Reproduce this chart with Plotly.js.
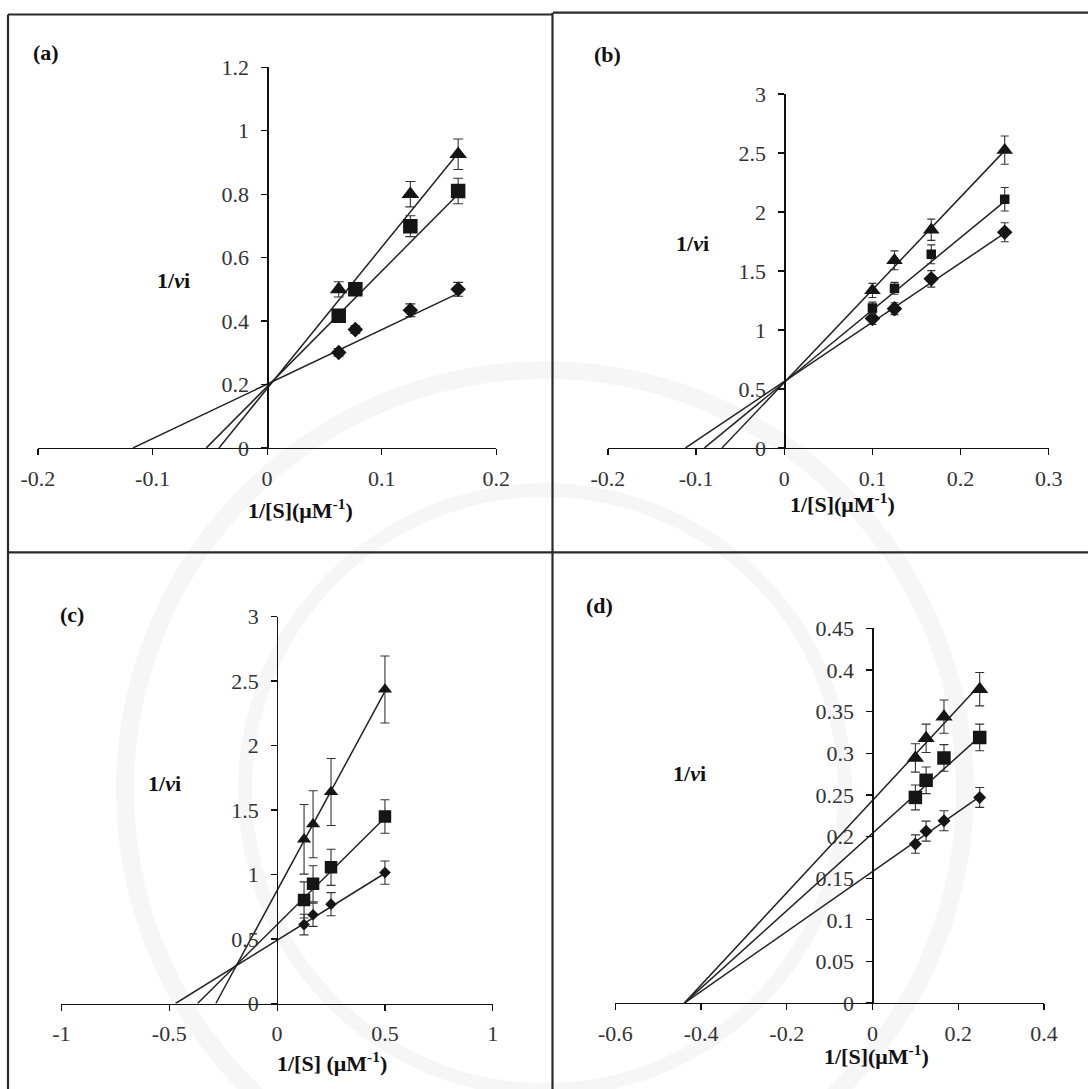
<!DOCTYPE html>
<html><head><meta charset="utf-8">
<script src="https://cdn.plot.ly/plotly-3.0.1.min.js"></script>
<style>html,body{margin:0;padding:0;background:#fff}#chart{width:1088px;height:1089px}</style>
</head><body><div id="chart"></div>
<script>
// ---------- DATA ----------
// Panel (a)
const aX      = [0.0625, 0.077, 0.125, 0.1667];
const aXTri   = [0.0625, 0.125, 0.1667];
const aDia    = [0.301, 0.373, 0.434, 0.500];
const aDiaErr = [0.012, 0.012, 0.020, 0.022];
const aSq     = [0.417, 0.500, 0.699, 0.810];
const aSqErr  = [0.010, 0.010, 0.033, 0.040];
const aTri    = [0.500, 0.800, 0.926];
const aTriErr = [0.024, 0.040, 0.048];
const aLineDiaX = [-0.117, 0.1667], aLineDiaY = [0, 0.487];
const aLineSqX  = [-0.053, 0.1667], aLineSqY  = [0, 0.800];
const aLineTriX = [-0.042, 0.1667], aLineTriY = [0, 0.930];
const aXTicks = [-0.2, -0.1, 0, 0.1, 0.2];
const aXTickText = ['-0.2', '-0.1', '0', '0.1', '0.2'];
const aYTicks = [0, 0.2, 0.4, 0.6, 0.8, 1, 1.2];
const aYTickText = ['0', '0.2', '0.4', '0.6', '0.8', '1', '1.2'];

// Panel (b)
const bX      = [0.1, 0.125, 0.1667, 0.25];
const bDia    = [1.097, 1.180, 1.433, 1.828];
const bDiaErr = [0.05, 0.05, 0.07, 0.08];
const bSq     = [1.186, 1.353, 1.641, 2.108];
const bSqErr  = [0.05, 0.05, 0.08, 0.10];
const bTri    = [1.335, 1.590, 1.849, 2.524];
const bTriErr = [0.06, 0.08, 0.09, 0.12];
const bLineDiaX = [-0.112, 0.25],  bLineDiaY = [0, 1.82];
const bLineSqX  = [-0.0905, 0.25], bLineSqY  = [0, 2.09];
const bLineTriX = [-0.0706, 0.25], bLineTriY = [0, 2.52];
const bXTicks = [-0.2, -0.1, 0, 0.1, 0.2, 0.3];
const bXTickText = ['-0.2', '-0.1', '0', '0.1', '0.2', '0.3'];
const bYTicks = [0, 0.5, 1, 1.5, 2, 2.5, 3];
const bYTickText = ['0', '0.5', '1', '1.5', '2', '2.5', '3'];

// Panel (c)
const cX      = [0.125, 0.1667, 0.25, 0.5];
const cDia    = [0.612, 0.688, 0.770, 1.015];
const cDiaErr = [0.08, 0.09, 0.09, 0.09];
const cSq     = [0.803, 0.928, 1.056, 1.450];
const cSqErr  = [0.14, 0.14, 0.14, 0.13];
const cTri    = [1.273, 1.390, 1.640, 2.435];
const cTriErr = [0.27, 0.26, 0.26, 0.26];
const cLineDiaX = [-0.471, 0.5], cLineDiaY = [0, 1.01];
const cLineSqX  = [-0.369, 0.5], cLineSqY  = [0, 1.44];
const cLineTriX = [-0.284, 0.5], cLineTriY = [0, 2.42];
const cXTicks = [-1, -0.5, 0, 0.5, 1];
const cXTickText = ['-1', '-0.5', '0', '0.5', '1'];
const cYTicks = [0, 0.5, 1, 1.5, 2, 2.5, 3];
const cYTickText = ['0', '0.5', '1', '1.5', '2', '2.5', '3'];

// Panel (d)
const dX      = [0.1, 0.125, 0.1667, 0.25];
const dDia    = [0.191, 0.2065, 0.219, 0.247];
const dDiaErr = [0.011, 0.012, 0.012, 0.012];
const dSq     = [0.247, 0.2676, 0.2944, 0.319];
const dSqErr  = [0.015, 0.016, 0.016, 0.016];
const dTri    = [0.2944, 0.318, 0.344, 0.377];
const dTriErr = [0.017, 0.017, 0.020, 0.020];
const dLineDiaX = [-0.439, 0.25], dLineDiaY = [0, 0.248];
const dLineSqX  = [-0.439, 0.25], dLineSqY  = [0, 0.320];
const dLineTriX = [-0.439, 0.25], dLineTriY = [0, 0.382];
const dXTicks = [-0.6, -0.4, -0.2, 0, 0.2, 0.4];
const dXTickText = ['-0.6', '-0.4', '-0.2', '0', '0.2', '0.4'];
const dYTicks = [0, 0.05, 0.1, 0.15, 0.2, 0.25, 0.3, 0.35, 0.4, 0.45];
const dYTickText = ['0', '0.05', '0.1', '0.15', '0.2', '0.25', '0.3', '0.35', '0.4', '0.45'];

const panelLabels = ['(a)', '(b)', '(c)', '(d)'];
const yTitle = '1/<i>v</i>i';
const xTitles = ['1/[S](μM<sup>-1</sup>)', '1/[S](μM<sup>-1</sup>)', '1/[S] (μM<sup>-1</sup>)', '1/[S](μM<sup>-1</sup>)'];

// ---------- LAYOUT ----------
const W = 1088, H = 1089;
const px = v => v / W, py = v => 1 - v / H;
const FONT = '"Liberation Serif"';
const INK = '#151515';

const traces = [];
const layout = {
  width: W, height: H, margin: {l: 0, r: 0, t: 0, b: 0},
  paper_bgcolor: '#fff', plot_bgcolor: 'rgba(0,0,0,0)',
  showlegend: false, font: {family: FONT, size: 22, color: '#333'},
  annotations: [], shapes: []
};

// faint background watermark rings (decorative, layer below)
const ring = (cx, cy, r, w) => layout.shapes.push({
  type: 'circle', xref: 'paper', yref: 'paper', layer: 'below',
  x0: px(cx - r), x1: px(cx + r), y0: py(cy + r), y1: py(cy - r),
  line: {color: 'rgba(0,0,0,0.035)', width: w}
});
ring(545, 790, 420, 18);
ring(545, 790, 300, 14);

function addPanel(k, g, d) {
  const xa = 'x' + (k === 1 ? '' : k), ya = 'y' + (k === 1 ? '' : k);
  layout['xaxis' + (k === 1 ? '' : k)] = {
    domain: [px(g.x0), px(g.x1)], range: d.xr, anchor: ya,
    showline: true, linecolor: '#111', linewidth: 1.3, mirror: false,
    ticks: 'outside', ticklen: 6, tickwidth: 1.2, tickcolor: '#111',
    tickmode: 'array', tickvals: d.xt, ticktext: d.xtt, ticklabelstandoff: 4,
    showgrid: false, zeroline: false, fixedrange: true,
    tickfont: {family: FONT, size: 22, color: '#333'}
  };
  layout['yaxis' + (k === 1 ? '' : k)] = {
    domain: [py(g.y0), py(g.y1)], range: d.yr, anchor: 'free', position: px(g.ax),
    showline: true, linecolor: '#111', linewidth: 1.3,
    ticks: 'outside', ticklen: 6, tickwidth: 1.2, tickcolor: '#111',
    tickmode: 'array', tickvals: d.yt, ticktext: d.ytt, ticklabelstandoff: 8,
    showgrid: false, zeroline: false, fixedrange: true,
    tickfont: {family: FONT, size: 22, color: '#333'}
  };
  const lines = [[d.ldx, d.ldy], [d.lsx, d.lsy], [d.ltx, d.lty]];
  lines.forEach(l => traces.push({
    type: 'scatter', mode: 'lines', x: l[0], y: l[1], xaxis: xa, yaxis: ya,
    line: {color: '#222', width: 1.5}, hoverinfo: 'skip'
  }));
  const ser = [
    [d.x, d.dia, d.diaE, 'diamond', d.ms[0]],
    [d.x, d.sq, d.sqE, 'square', d.ms[1]],
    [d.xt3 || d.x, d.tri, d.triE, 'triangle-up', d.ms[2]]
  ];
  ser.forEach(s => traces.push({
    type: 'scatter', mode: 'markers', x: s[0], y: s[1], xaxis: xa, yaxis: ya,
    marker: {symbol: s[3], size: s[4], color: INK, line: {width: 0}},
    error_y: {type: 'data', array: s[2], visible: true, color: '#333', thickness: 1.1, width: d.cap}
  }));
  const ann = (x, y, text) => layout.annotations.push({
    xref: 'paper', yref: 'paper', x: px(x), y: py(y), text: '<b>' + text + '</b>',
    showarrow: false, xanchor: 'center', yanchor: 'middle',
    font: {family: FONT, size: 22, color: '#111'}
  });
  ann(g.lab[0], g.lab[1], panelLabels[k - 1]);
  ann(g.yt[0], g.yt[1], yTitle);
  ann(g.xt[0], g.xt[1], xTitles[k - 1]);
}

addPanel(1, {x0: 37.9, x1: 496.3, y0: 447.9, y1: 67.3, ax: 267.3,
             lab: [45.6, 52.6], yt: [173.7, 280.6], xt: [300.6, 508.6]},
  {x: aX, xt3: aXTri, dia: aDia, diaE: aDiaErr, sq: aSq, sqE: aSqErr, tri: aTri, triE: aTriErr,
   ldx: aLineDiaX, ldy: aLineDiaY, lsx: aLineSqX, lsy: aLineSqY, ltx: aLineTriX, lty: aLineTriY,
   xr: [-0.2, 0.2], yr: [0, 1.2], xt: aXTicks, xtt: aXTickText, yt: aYTicks, ytt: aYTickText,
   ms: [12, 14.5, 15.5], cap: 5});
addPanel(2, {x0: 607.9, x1: 1048.8, y0: 447.9, y1: 94.0, ax: 784.3,
             lab: [607.9, 54.4], yt: [692, 243.8], xt: [842.9, 503]},
  {x: bX, dia: bDia, diaE: bDiaErr, sq: bSq, sqE: bSqErr, tri: bTri, triE: bTriErr,
   ldx: bLineDiaX, ldy: bLineDiaY, lsx: bLineSqX, lsy: bLineSqY, ltx: bLineTriX, lty: bLineTriY,
   xr: [-0.2, 0.3], yr: [0, 3], xt: bXTicks, xtt: bXTickText, yt: bYTicks, ytt: bYTickText,
   ms: [12, 9.5, 14.5], cap: 4});
addPanel(3, {x0: 61.4, x1: 492.8, y0: 1003.5, y1: 616.6, ax: 277.1,
             lab: [71.9, 614.9], yt: [164.9, 783.2], xt: [331.5, 1062.1]},
  {x: cX, dia: cDia, diaE: cDiaErr, sq: cSq, sqE: cSqErr, tri: cTri, triE: cTriErr,
   ldx: cLineDiaX, ldy: cLineDiaY, lsx: cLineSqX, lsy: cLineSqY, ltx: cLineTriX, lty: cLineTriY,
   xr: [-1, 1], yr: [0, 3], xt: cXTicks, xtt: cXTickText, yt: cYTicks, ytt: cYTickText,
   ms: [9, 12.5, 12.5], cap: 4.5});
addPanel(4, {x0: 615.3, x1: 1044, y0: 1003.1, y1: 628.4, ax: 872.4,
             lab: [599.8, 605], yt: [689.2, 773.4], xt: [876.6, 1055]},
  {x: dX, dia: dDia, diaE: dDiaErr, sq: dSq, sqE: dSqErr, tri: dTri, triE: dTriErr,
   ldx: dLineDiaX, ldy: dLineDiaY, lsx: dLineSqX, lsy: dLineSqY, ltx: dLineTriX, lty: dLineTriY,
   xr: [-0.6, 0.4], yr: [0, 0.45], xt: dXTicks, xtt: dXTickText, yt: dYTicks, ytt: dYTickText,
   ms: [10, 13.5, 15], cap: 4.5});

// panel frame lines
const seg = (x0, y0, x1, y1) => layout.shapes.push({
  type: 'line', xref: 'paper', yref: 'paper', x0: px(x0), y0: py(y0), x1: px(x1), y1: py(y1),
  line: {color: '#2a2a2a', width: 2.2}
});
seg(8, 14.5, 553, 14.5);
seg(553, 12.7, 1088, 12.7);
seg(8, 14.5, 8, 1089);
seg(552.5, 12.7, 552.5, 1089);
seg(8, 552.3, 1088, 552.3);

Plotly.newPlot('chart', traces, layout, {staticPlot: true, displayModeBar: false});
</script>
</body></html>
